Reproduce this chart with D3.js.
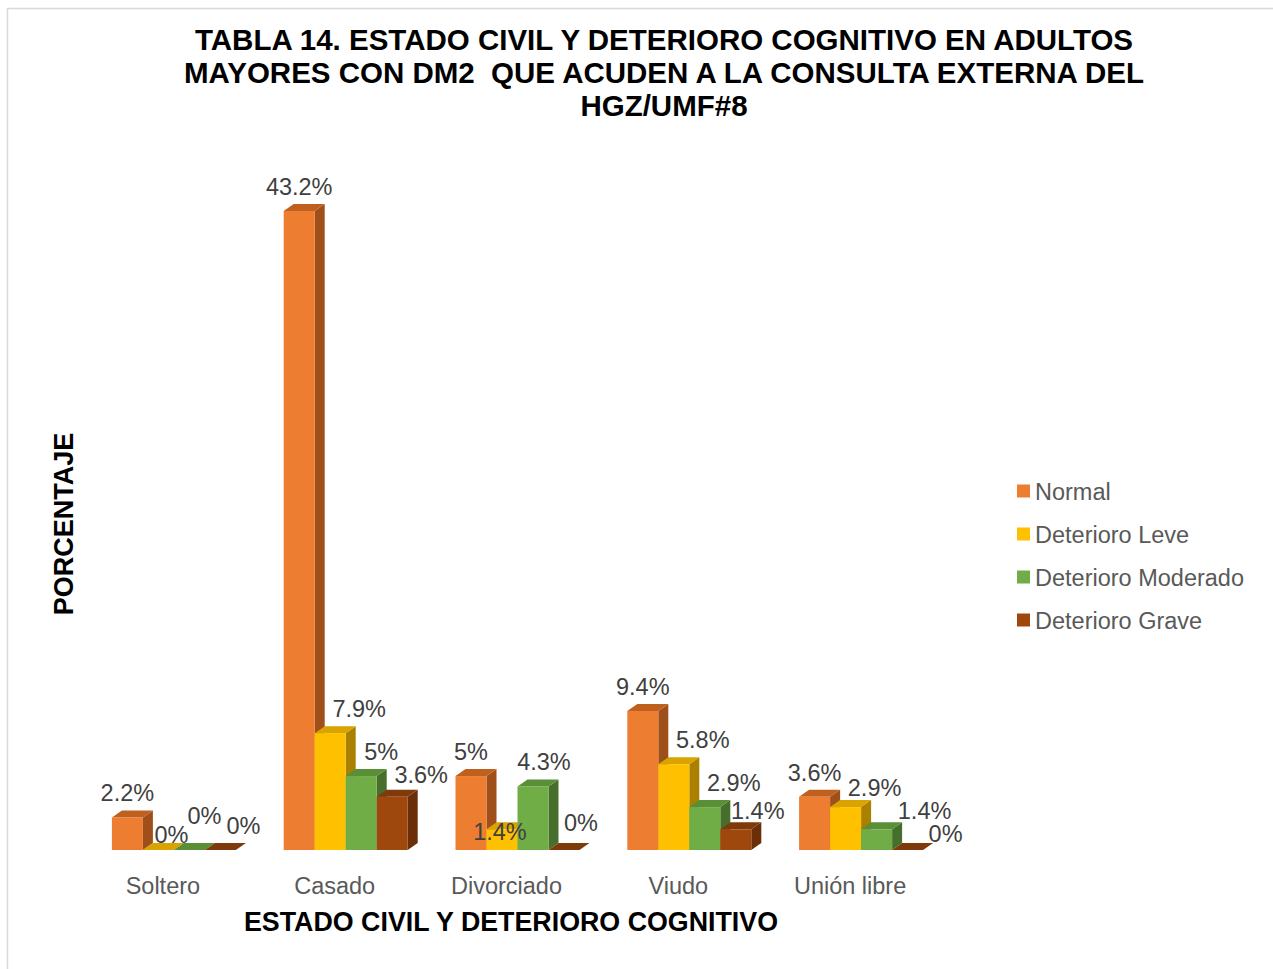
<!DOCTYPE html>
<html>
<head>
<meta charset="utf-8">
<script src="https://cdn.jsdelivr.net/npm/d3@7"></script>
<style>
  body { margin: 0; background: #fff; }
  text { font-family: "Liberation Sans", Arial, sans-serif; }
</style>
</head>
<body>
<div id="chart"></div>
<script>
const categories = ['Soltero', 'Casado', 'Divorciado', 'Viudo', 'Unión libre'];
const seriesNames = ['Normal', 'Deterioro Leve', 'Deterioro Moderado', 'Deterioro Grave'];
const normal = [2.2, 43.2, 5, 9.4, 3.6];
const leve = [0, 7.9, 1.4, 5.8, 2.9];
const moderado = [0, 5, 4.3, 2.9, 1.4];
const grave = [0, 3.6, 0, 1.4, 0];
const seriesValues = [normal, leve, moderado, grave];

const titleLines = [
  'TABLA 14. ESTADO CIVIL Y DETERIORO COGNITIVO EN ADULTOS',
  'MAYORES CON DM2  QUE ACUDEN A LA CONSULTA EXTERNA DEL',
  'HGZ/UMF#8'
];

const width = 1273;
const height = 969;
const base = 850;
const depthX = 10, depthY = 7;

// front, top, side colours per series
const colors = [
  { front: '#ED7D31', top: '#C0601F', side: '#9E4F1A' },
  { front: '#FFC000', top: '#D9A300', side: '#A98000' },
  { front: '#70AD47', top: '#5A8F38', side: '#476F2C' },
  { front: '#9E480E', top: '#7F3A0B', side: '#6A2F08' }
];

// default label offsets (from bar front centre / top), plus a few nudges
// where Excel moved labels to avoid collisions
const labelDx = [0, 29, 29, 29];
const labelDy = -24;
const labelNudge = {
  'Soltero|1': [13, -15], 'Soltero|2': [15, -34], 'Soltero|3': [23, -24],
  'Casado|2': [20, -24], 'Casado|3': [29, -22],
  'Divorciado|1': [-2, 3], 'Divorciado|2': [11, -24], 'Divorciado|3': [17, -27],
  'Viudo|3': [22, -18],
  'Unión libre|1': [29, -19], 'Unión libre|2': [48, -18], 'Unión libre|3': [38, -16]
};

const svg = d3.select('#chart')
  .append('svg')
  .attr('width', width)
  .attr('height', height);

svg.append('rect')
  .attr('x', 7.5).attr('y', 8.5)
  .attr('width', width).attr('height', height)
  .attr('fill', '#fff')
  .attr('stroke', '#d9d9d9')
  .attr('stroke-width', 1.5);

const x = d3.scaleBand()
  .domain(categories)
  .range([77, 936]);

const inner = d3.scaleBand()
  .domain(d3.range(seriesNames.length))
  .range([0, 124]);

const y = d3.scaleLinear()
  .domain([0, 43.2])
  .range([base, 211]);

const bars = [];
categories.forEach((c, ci) => {
  seriesValues.forEach((vals, si) => {
    bars.push({ cat: c, s: si, v: vals[ci] });
  });
});

const barX = d => x(d.cat) + x.bandwidth() / 2 - 51 + inner(d.s);

const g = svg.append('g');
const barG = g.selectAll('g.bar')
  .data(bars)
  .join('g')
  .attr('class', 'bar');

barG.each(function (d) {
  const el = d3.select(this);
  const x0 = barX(d);
  const w = inner.bandwidth();
  const yt = y(d.v);
  const col = colors[d.s];
  el.append('path')
    .attr('d', `M${x0 + w},${yt} L${x0 + w + depthX},${yt - depthY} L${x0 + w + depthX},${base - depthY} L${x0 + w},${base} Z`)
    .attr('fill', col.side);
  el.append('path')
    .attr('d', `M${x0},${yt} L${x0 + depthX},${yt - depthY} L${x0 + w + depthX},${yt - depthY} L${x0 + w},${yt} Z`)
    .attr('fill', col.top);
  if (d.v > 0) {
    el.append('rect')
      .attr('x', x0).attr('y', yt)
      .attr('width', w).attr('height', base - yt)
      .attr('fill', col.front);
  }
});

function labelOffset(d) {
  return labelNudge[d.cat + '|' + d.s] || [labelDx[d.s], labelDy];
}

// value labels
g.selectAll('text.val')
  .data(bars)
  .join('text')
  .attr('class', 'val')
  .attr('x', d => barX(d) + inner.bandwidth() / 2 + labelOffset(d)[0])
  .attr('y', d => y(d.v) + labelOffset(d)[1] + 8)
  .attr('text-anchor', 'middle')
  .attr('font-size', 23.5)
  .attr('fill', '#404040')
  .text(d => d.v + '%');

// category labels
svg.append('g')
  .selectAll('text')
  .data(categories)
  .join('text')
  .attr('x', d => x(d) + x.bandwidth() / 2)
  .attr('y', 894)
  .attr('text-anchor', 'middle')
  .attr('font-size', 23.5)
  .attr('fill', '#595959')
  .text(d => d);

// title
svg.append('g')
  .selectAll('text')
  .data(titleLines)
  .join('text')
  .attr('x', 664)
  .attr('y', (d, i) => 50 + i * 33)
  .attr('text-anchor', 'middle')
  .attr('font-size', 29.5)
  .attr('font-weight', 'bold')
  .attr('fill', '#000')
  .style('white-space', 'pre')
  .text(d => d);

// axis titles
svg.append('text')
  .attr('transform', 'translate(73,524) rotate(-90)')
  .attr('text-anchor', 'middle')
  .attr('font-size', 27)
  .attr('font-weight', 'bold')
  .text('PORCENTAJE');

svg.append('text')
  .attr('x', 511)
  .attr('y', 931)
  .attr('text-anchor', 'middle')
  .attr('font-size', 26.8)
  .attr('font-weight', 'bold')
  .text('ESTADO CIVIL Y DETERIORO COGNITIVO');

// legend
const legend = svg.append('g')
  .selectAll('g')
  .data(seriesNames)
  .join('g')
  .attr('transform', (d, i) => `translate(1017,${491 + i * 43})`);

legend.append('rect')
  .attr('x', 0).attr('y', -6.5)
  .attr('width', 13).attr('height', 13)
  .attr('fill', (d, i) => colors[i].front);

legend.append('text')
  .attr('x', 18)
  .attr('y', 8.5)
  .attr('font-size', 23.5)
  .attr('fill', '#595959')
  .text(d => d);
</script>
</body>
</html>
